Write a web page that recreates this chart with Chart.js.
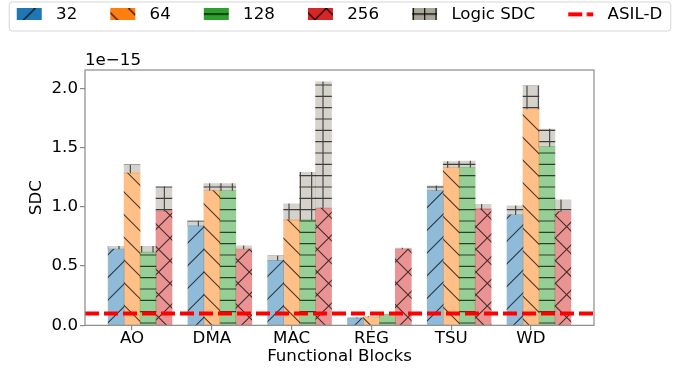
<!DOCTYPE html>
<html><head><meta charset="utf-8">
<script src="https://cdn.jsdelivr.net/npm/chart.js@4/dist/chart.umd.min.js"></script>
<style>html,body{margin:0;padding:0;background:#fff;}canvas{display:block;}</style>
</head><body>
<canvas id="c" width="688" height="374"></canvas>
<script>
// ---- data (SDC values in units of 1e-15) ----
const categories = ['AO', 'DMA', 'MAC', 'REG', 'TSU', 'WD'];
const seriesNames = ['32', '64', '128', '256'];
const sdc32  = [0.644, 0.840, 0.548, 0.062, 1.137, 0.933];
const sdc64  = [1.284, 1.137, 0.890, 0.070, 1.331, 1.826];
const sdc128 = [0.618, 1.137, 0.890, 0.090, 1.334, 1.508];
const sdc256 = [0.966, 0.644, 0.989, 0.644, 0.983, 0.961];
const logic32  = [0.022, 0.042, 0.039, 0.004, 0.040, 0.075];
const logic64  = [0.070, 0.059, 0.135, 0.004, 0.051, 0.196];
const logic128 = [0.048, 0.059, 0.402, 0.004, 0.053, 0.149];
const logic256 = [0.205, 0.027, 1.067, 0.008, 0.039, 0.098];
const asilD = 0.1;
const yTicks = [0, 0.5, 1.0, 1.5, 2.0];
const offsetLabel = '1e\u221215';

// ---- styling / layout ----
const FS = 16.67;
const AXIS = '#8a8a8a';
const X_MIN = -0.59, X_MAX = 5.79, Y_MAX = 2.155;
const barOffsets = [-0.2, 0, 0.2, 0.4];
const baseColors = [[31,119,180],[255,127,14],[44,160,44],[214,39,40]];
const grayColor = [169,165,152];
const hatches = ['/', '\\', '-', 'x'];
const U = 68;

Chart.defaults.font.family = "'DejaVu Sans', sans-serif";
Chart.defaults.font.size = FS;
Chart.defaults.color = '#000';

function hatchTile(fill, hatch, lineColor) {
  const c = document.createElement('canvas'); c.width = U; c.height = U;
  const g = c.getContext('2d');
  g.fillStyle = fill; g.fillRect(0, 0, U, U);
  g.strokeStyle = lineColor; g.lineWidth = 1.1;
  g.beginPath();
  const s1 = U / 6, s2 = U / 3;
  if (hatch.includes('/') || hatch.includes('x')) {
    for (let k = 0; k <= 6; k++) { const c0 = k * s2; g.moveTo(c0 + 1, -1); g.lineTo(c0 - U - 1, U + 1); }
  }
  if (hatch.includes('\\') || hatch.includes('x')) {
    for (let k = -3; k <= 3; k++) { const c0 = k * s2; g.moveTo(c0 - 1, -1); g.lineTo(c0 + U + 1, U + 1); }
  }
  if (hatch.includes('-') || hatch.includes('+')) {
    for (let k = 0; k < 6; k++) { const y = k * s1 + s1 / 2; g.moveTo(0, y); g.lineTo(U, y); }
  }
  if (hatch.includes('+')) {
    for (let k = 0; k < 6; k++) { const x = k * s1 + s1 / 2; g.moveTo(x, 0); g.lineTo(x, U); }
  }
  g.stroke();
  return c;
}
const ctxMain = document.getElementById('c').getContext('2d');
const rgba = (c, a) => `rgba(${c[0]},${c[1]},${c[2]},${a})`;
const barPatterns = baseColors.map((c, s) => ctxMain.createPattern(hatchTile(rgba(c, 0.5), hatches[s], 'rgba(0,0,0,0.7)'), 'repeat'));
const grayPattern = ctxMain.createPattern(hatchTile(rgba(grayColor, 0.5), '+', 'rgba(0,0,0,0.7)'), 'repeat');

// legend swatches
const LW = 58, LH = 12, PATCH_X = 27, PATCH_W = 25;
function legendPatch(color, hatch) {
  const c = document.createElement('canvas'); c.width = LW; c.height = LH;
  const g = c.getContext('2d');
  g.fillStyle = g.createPattern(hatchTile(rgba(color, 1), hatch, '#000'), 'repeat');
  g.fillRect(PATCH_X, 0, PATCH_W, LH);
  return c;
}
function legendLine() {
  const c = document.createElement('canvas'); c.width = LW; c.height = LH;
  const g = c.getContext('2d');
  g.strokeStyle = '#ff0000'; g.lineWidth = 4; g.setLineDash([14, 4.5]);
  g.beginPath(); g.moveTo(PATCH_X, LH / 2); g.lineTo(PATCH_X + PATCH_W, LH / 2); g.stroke();
  return c;
}
const legendNames = seriesNames.concat(['Logic SDC', 'ASIL-D']);
const legendImgs = baseColors.map((c, s) => legendPatch(c, hatches[s]))
  .concat([legendPatch(grayColor, '+'), legendLine()]);
const legendItems = legendNames.map((t, i) => ({
  text: t, pointStyle: legendImgs[i], fillStyle: 'rgba(0,0,0,0)', strokeStyle: 'rgba(0,0,0,0)',
  lineWidth: 0, hidden: false, datasetIndex: i, fontColor: '#000'
}));

// ---- datasets ----
const baseSeries = [sdc32, sdc64, sdc128, sdc256];
const logicSeries = [logic32, logic64, logic128, logic256];
const xPos = (i, s) => i + barOffsets[s];
const datasets = baseSeries.map((arr, s) => ({
  type: 'bar', label: seriesNames[s], xAxisID: 'x', yAxisID: 'y',
  data: arr.map((v, i) => ({ x: xPos(i, s), y: v })),
  backgroundColor: barPatterns[s], borderWidth: 0, grouped: false, stack: 'sdc', order: 1,
  barPercentage: 1, categoryPercentage: 1
}));
datasets.push({
  type: 'bar', label: 'Logic SDC', xAxisID: 'x', yAxisID: 'y',
  data: categories.flatMap((_, i) => logicSeries.map((arr, s) => ({ x: xPos(i, s), y: arr[i] }))),
  backgroundColor: grayPattern, borderWidth: 0, grouped: false, stack: 'sdc', order: 1,
  barPercentage: 1, categoryPercentage: 1
});
datasets.push({
  type: 'line', label: 'ASIL-D', xAxisID: 'x', yAxisID: 'y',
  data: [{ x: X_MIN, y: asilD }, { x: X_MAX, y: asilD }],
  borderColor: '#ff0000', borderWidth: 4, borderDash: [14, 5], pointRadius: 0,
  fill: false, stack: 'asil', order: 0, borderCapStyle: 'butt'
});

const framePlugin = {
  id: 'frame',
  afterDatasetsDraw(chart) {
    const { ctx, chartArea: a } = chart;
    ctx.save(); ctx.strokeStyle = AXIS; ctx.lineWidth = 1.2;
    ctx.strokeRect(a.left, a.top, a.right - a.left, a.bottom - a.top);
    ctx.restore();
  }
};
const legendFramePlugin = {
  id: 'legendFrame',
  afterDraw(chart) {
    const lg = chart.legend; if (!lg || !lg.legendHitBoxes || !lg.legendHitBoxes.length) return;
    const hb = lg.legendHitBoxes, last = hb[hb.length - 1];
    const l = hb[0].left + PATCH_X - 7.5, r = last.left + last.width + 8.5;
    const t = hb[0].top - 4, b = t + 29, rad = 3;
    const ctx = chart.ctx; ctx.save();
    ctx.strokeStyle = 'rgba(204,204,204,0.8)'; ctx.lineWidth = 1;
    ctx.beginPath();
    ctx.moveTo(l + rad, t); ctx.lineTo(r - rad, t); ctx.arcTo(r, t, r, t + rad, rad);
    ctx.lineTo(r, b - rad); ctx.arcTo(r, b, r - rad, b, rad);
    ctx.lineTo(l + rad, b); ctx.arcTo(l, b, l, b - rad, rad);
    ctx.lineTo(l, t + rad); ctx.arcTo(l, t, l + rad, t, rad);
    ctx.stroke(); ctx.restore();
  }
};

new Chart(document.getElementById('c'), {
  data: { datasets },
  options: {
    responsive: false, animation: false, devicePixelRatio: 1,
    layout: { padding: { left: -36, right: 0, top: 0, bottom: 3 } },
    plugins: {
      tooltip: { enabled: false },
      legend: {
        display: true, position: 'top', align: 'center', fullSize: true,
        labels: {
          usePointStyle: true, pointStyleWidth: LW, boxHeight: LH, padding: 6,
          color: '#000', font: { size: FS }, generateLabels: () => legendItems
        }
      },
      title: {
        display: true, text: offsetLabel, align: 'start', position: 'top', fullSize: false, weight: 500,
        color: '#000', font: { size: FS, lineHeight: 1.0, weight: 'normal' }, padding: { top: 20, bottom: 0.67 }
      }
    },
    scales: {
      x: {
        type: 'linear', min: X_MIN, max: X_MAX, offset: false,
        afterBuildTicks: s => { s.ticks = categories.map((_, i) => ({ value: i })); },
        ticks: { callback: v => categories[v], autoSkip: false, maxRotation: 0, padding: 0, color: '#000', font: { size: FS, lineHeight: 1.0 } },
        grid: { display: true, drawOnChartArea: false, drawTicks: true, tickLength: 5, color: AXIS, lineWidth: 1.2, offset: false },
        border: { display: false },
        title: { display: true, text: 'Functional Blocks', color: '#000', font: { size: FS, lineHeight: 1.2 }, padding: { top: 0, bottom: 4 } }
      },
      y: {
        type: 'linear', stacked: true, min: 0, max: Y_MAX, position: 'left',
        afterBuildTicks: s => { s.ticks = yTicks.map(v => ({ value: v })); },
        ticks: { callback: v => v.toFixed(1), padding: 2, color: '#000', font: { size: FS } },
        grid: { display: true, drawOnChartArea: false, drawTicks: true, tickLength: 5, color: AXIS, lineWidth: 1.2 },
        border: { display: false },
        title: { display: true, text: 'SDC', color: '#000', font: { size: FS, lineHeight: 1.2 }, padding: { top: 62.7, bottom: 2.8 } }
      },
      yR: {
        type: 'linear', position: 'right', display: true, min: 0, max: 1,
        grid: { display: false, drawTicks: false }, border: { display: false }, ticks: { display: false },
        afterFit: s => { s.width = 94; }
      }
    }
  },
  plugins: [framePlugin, legendFramePlugin]
});
</script>
</body></html>
